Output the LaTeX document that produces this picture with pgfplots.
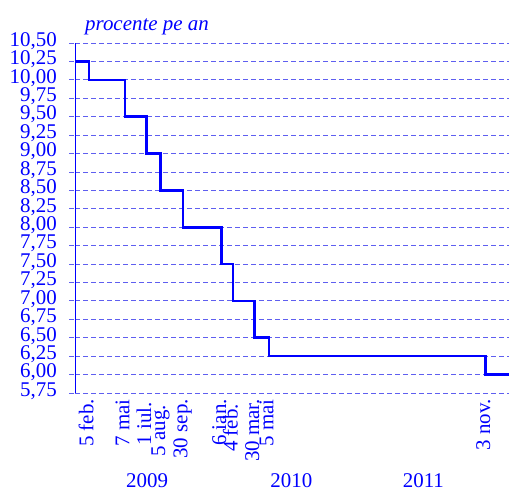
\documentclass[border=0pt]{standalone}
\usepackage{fontspec}
\setmainfont{Liberation Serif}
\usepackage{pgfplots}
\pgfplotsset{compat=1.18}
\definecolor{lineblue}{RGB}{0,0,255}
\definecolor{gridblue}{RGB}{95,95,240}
\newcommand\fs{\fontsize{21}{21}\selectfont}
\begin{document}
\begin{tikzpicture}
\useasboundingbox (-75bp,-98bp) rectangle (434bp,393bp);
\begin{axis}[
  at={(0,0)}, anchor=south west,
  scale only axis, width=434bp, height=350bp,
  xmin=0, xmax=1095, ymin=5.75, ymax=10.5,
  axis x line*=bottom, axis y line*=left,
  x axis line style={draw=none},
  y axis line style={lineblue, line width=1bp, -},
  clip=false,
  ymajorgrids,
  major grid style={gridblue, dash pattern=on 5bp off 3bp, line width=0.8bp},
  ytick={5.75,6,...,10.5},
  tick align=outside,
  major tick length=6bp,
  ytick style={gridblue, dash pattern=on 5bp off 3bp, line width=0.8bp},
  xtick style={draw=none},
  /pgf/number format/.cd, fixed, fixed zerofill, precision=2, use comma, assume math mode=true,
  /pgfplots/.cd,
  yticklabel style={font=\fs, text=lineblue, anchor=east, inner sep=0pt, text height=0.66em, text depth=0pt, xshift=-12bp},
  xtick={35,126,181,216,272,370,399,453,489,1036},
  xticklabels={5 feb.,7 mai,1 iul.\hspace*{3bp},5 aug.\hspace*{6bp},30 sep.,6 ian.,4 feb.\hspace*{5bp},30 mar.,5 mai,3 nov.},
  xticklabel style={font=\fs, text=lineblue, rotate=90, anchor=east, inner sep=0pt, text height=0.9em, text depth=0pt},
]
\addplot[const plot, lineblue, line width=2.6bp, line join=miter] coordinates {
 (0,10.25) (35,10.00) (126,9.50) (181,9.00) (216,8.50) (272,8.00)
 (370,7.50) (399,7.00) (453,6.50) (489,6.25) (1036,6.00) (1095,6.00)
};
\node[font=\fs, text=lineblue, anchor=base, yshift=-94bp] at (axis cs:182,5.75) {2009};
\node[font=\fs, text=lineblue, anchor=base, yshift=-94bp] at (axis cs:546,5.75) {2010};
\node[font=\fs, text=lineblue, anchor=base, yshift=-94bp] at (axis cs:879,5.75) {2011};
\node[font=\fs\itshape, text=lineblue, anchor=base west, inner sep=0pt, xshift=10bp, yshift=12bp] at (rel axis cs:0,1) {procente pe an};
\end{axis}
\end{tikzpicture}
\end{document}
